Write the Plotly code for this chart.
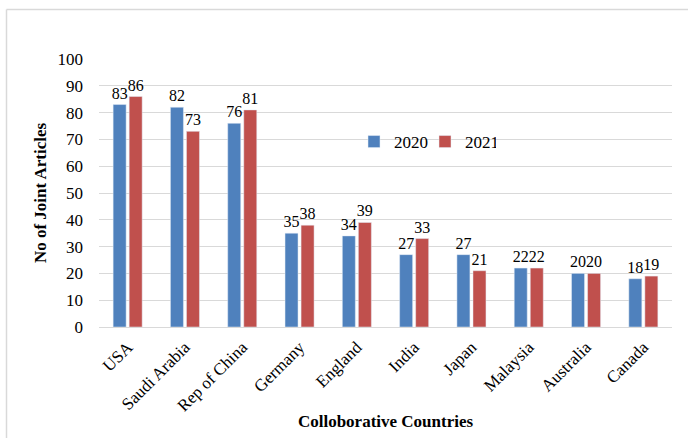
import plotly.graph_objects as go

countries = ["USA", "Saudi Arabia", "Rep of China", "Germany", "England",
             "India", "Japan", "Malaysia", "Australia", "Canada"]
y2020 = [83, 82, 76, 35, 34, 27, 27, 22, 20, 18]
y2021 = [86, 73, 81, 38, 39, 33, 21, 22, 20, 19]

FONT = "Liberation Serif"
W, H = 688, 438
L, R, T, B = 99, 16, 59, 111
pw, ph = W - L - R, H - T - B

def px_x(X):
    return (X - L) / pw

def px_y(Y):
    return (H - B - Y) / ph

fig = go.Figure()
for name, vals, col in [("2020", y2020, "#4F81BD"), ("2021", y2021, "#C0504D")]:
    fig.add_trace(go.Bar(name=name, x=countries, y=vals, marker_color=col,
                         text=vals, textposition="outside", cliponaxis=False,
                         constraintext="none", textangle=0,
                         textfont=dict(family=FONT, size=16, color="black")))

fig.update_layout(
    width=W, height=H,
    margin=dict(l=L, r=R, t=T, b=B),
    paper_bgcolor="white", plot_bgcolor="white",
    barmode="group", bargap=0.44, bargroupgap=0.19,
    font=dict(family=FONT, size=17, color="black"),
    legend=dict(orientation="h", x=px_x(354), y=px_y(124), xanchor="left", yanchor="top",
                font=dict(family=FONT, size=17), bgcolor="rgba(0,0,0,0)",
                entrywidth=26, entrywidthmode="pixels", tracegroupgap=0),
    xaxis=dict(tickangle=-45, showline=False, ticks="", tickfont=dict(family=FONT, size=17),
               ticklabelstandoff=6, automargin=False,
               title=dict(text="<b>Colloborative Countries</b>", font=dict(family=FONT, size=17),
                          standoff=0)),
    yaxis=dict(range=[0, 100], dtick=10, showgrid=True, gridcolor="#d9d9d9", gridwidth=1,
               zeroline=True, zerolinecolor="#d9d9d9", zerolinewidth=1, showline=False,
               ticks="", tickfont=dict(family=FONT, size=17), ticklabelstandoff=15,
               automargin=False,
               title=dict(text="<b>No of Joint Articles</b>", font=dict(family=FONT, size=17),
                          standoff=6)),
    shapes=[
        dict(type="line", xref="paper", yref="paper", x0=px_x(6.5), x1=px_x(700),
             y0=px_y(9.5), y1=px_y(9.5), line=dict(color="#d9d9d9", width=1.5)),
        dict(type="line", xref="paper", yref="paper", x0=px_x(6.5), x1=px_x(6.5),
             y0=px_y(9.5), y1=px_y(450), line=dict(color="#d9d9d9", width=1.5)),
    ],
)

fig.write_html("out.html")
